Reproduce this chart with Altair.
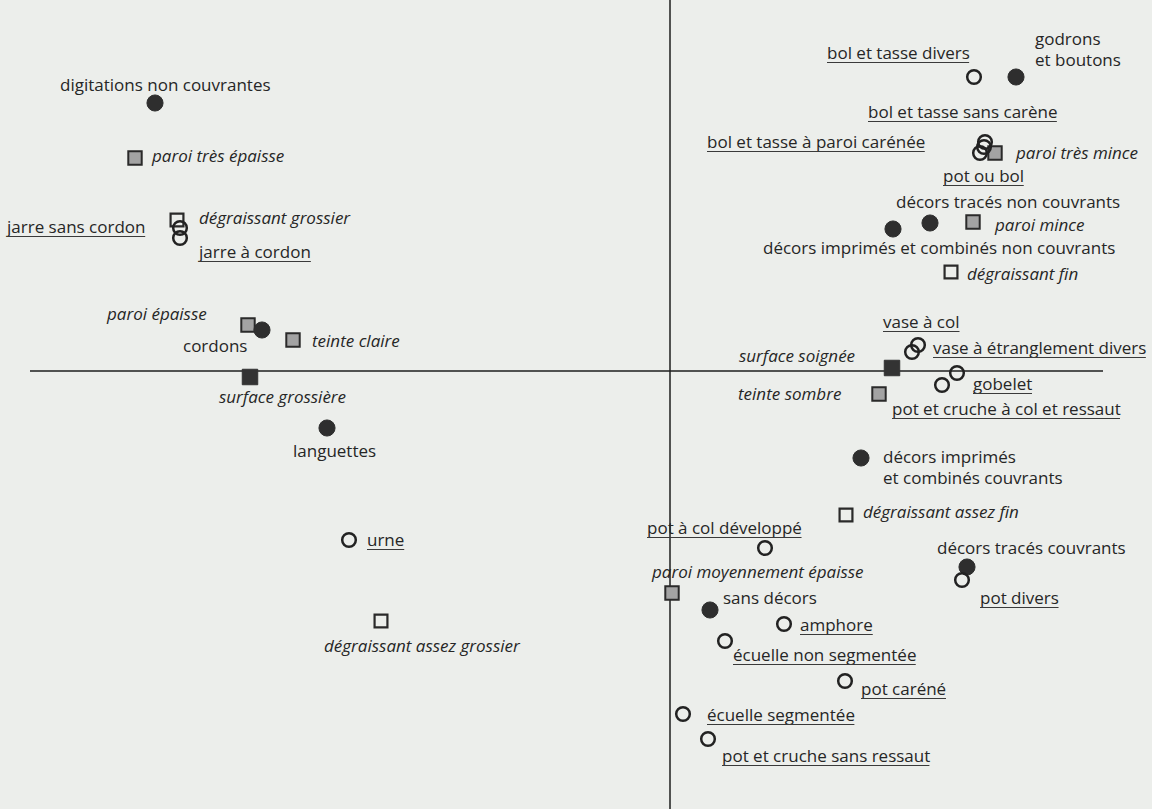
import altair as alt
import pandas as pd

# ---- point coordinates (factor scores) ----
decor_names = ["digitations non couvrantes", "cordons", "languettes", "godrons et boutons",
               "décors tracés non couvrants", "décors imprimés et combinés non couvrants",
               "décors imprimés et combinés couvrants", "décors tracés couvrants", "sans décors"]
decor_x = [-5.15, -4.08, -3.43, 3.46, 2.60, 2.23, 1.91, 2.97, 0.40]
decor_y = [2.68, 0.41, -0.57, 2.94, 1.48, 1.42, -0.87, -1.96, -2.39]

form_names = ["jarre sans cordon", "jarre à cordon", "urne", "bol et tasse divers",
              "bol et tasse sans carène", "bol et tasse à paroi carénée", "pot ou bol",
              "vase à col", "vase à étranglement divers", "gobelet",
              "pot et cruche à col et ressaut", "pot à col développé", "pot divers",
              "amphore", "écuelle non segmentée", "pot caréné", "écuelle segmentée",
              "pot et cruche sans ressaut"]
form_x = [-4.90, -4.90, -3.21, 3.04, 3.15, 3.14, 3.10, 2.48, 2.42, 2.87, 2.72, 0.95, 2.92,
          1.14, 0.55, 1.75, 0.13, 0.38]
form_y = [1.43, 1.33, -1.69, 2.94, 2.29, 2.24, 2.18, 0.26, 0.19, -0.02, -0.14, -1.77, -2.09,
          -2.53, -2.70, -3.10, -3.43, -3.68]

paroi_names = ["paroi très épaisse", "paroi épaisse", "teinte claire", "paroi très mince",
               "paroi mince", "teinte sombre", "paroi moyennement épaisse"]
paroi_x = [-5.35, -4.22, -3.77, 3.25, 3.03, 2.09, 0.02]
paroi_y = [2.13, 0.46, 0.31, 2.18, 1.49, -0.23, -2.22]

degr_names = ["dégraissant grossier", "dégraissant fin", "dégraissant assez fin",
              "dégraissant assez grossier"]
degr_x = [-4.93, 2.81, 1.76, -2.89]
degr_y = [1.51, 0.99, -1.44, -2.50]

surf_names = ["surface grossière", "surface soignée"]
surf_x = [-4.20, 2.22]
surf_y = [-0.06, 0.03]

# ---- labels: text, left edge, vertical centre, style ----
label_text = ["digitations non couvrantes", "cordons", "languettes", "godrons", "et boutons",
              "décors tracés non couvrants", "décors imprimés et combinés non couvrants",
              "décors imprimés", "et combinés couvrants", "décors tracés couvrants", "sans décors",
              "jarre sans cordon", "jarre à cordon", "urne", "bol et tasse divers",
              "bol et tasse sans carène", "bol et tasse à paroi carénée", "pot ou bol",
              "vase à col", "vase à étranglement divers", "gobelet",
              "pot et cruche à col et ressaut", "pot à col développé", "pot divers", "amphore",
              "écuelle non segmentée", "pot caréné", "écuelle segmentée",
              "pot et cruche sans ressaut",
              "paroi très épaisse", "paroi épaisse", "teinte claire", "paroi très mince",
              "paroi mince", "teinte sombre", "paroi moyennement épaisse",
              "dégraissant grossier", "dégraissant fin", "dégraissant assez fin",
              "dégraissant assez grossier", "surface grossière", "surface soignée"]
label_x = [-6.10, -4.87, -3.77, 3.65, 3.65, 2.26, 0.93, 2.13, 2.13, 2.67, 0.53,
           -6.63, -4.71, -3.03, 1.57, 1.98, 0.37, 2.73, 2.13, 2.63, 3.03, 2.22, -0.23, 3.10,
           1.30, 0.63, 1.91, 0.37, 0.52,
           -5.18, -5.63, -3.58, 3.46, 3.25, 0.68, -0.18,
           -4.71, 2.97, 1.93, -3.46, -4.51, 0.69]
label_y = [2.85, 0.24, -0.81, 3.31, 3.10, 1.68, 1.22, -0.87, -1.08, -1.78, -2.28,
           1.43, 1.18, -1.70, 3.17, 2.58, 2.28, 1.94, 0.48, 0.22, -0.14, -0.39, -1.58, -2.28,
           -2.55, -2.85, -3.19, -3.45, -3.86,
           2.14, 0.56, 0.29, 2.17, 1.45, -0.24, -2.02,
           1.52, 0.96, -1.42, -2.76, -0.27, 0.14]
label_style = ["plain"] * 11 + ["under"] * 18 + ["italic"] * 13

FONT = "Open Sans"
FS = 17
INK = "#262626"

# approximate advance widths (em) to size the underlines
cw = {" ": 0.26, "a": 0.56, "à": 0.56, "b": 0.61, "c": 0.48, "d": 0.61, "e": 0.56, "é": 0.56,
      "è": 0.56, "f": 0.34, "g": 0.54, "h": 0.61, "i": 0.25, "j": 0.25, "l": 0.25, "m": 0.93,
      "n": 0.61, "o": 0.60, "p": 0.61, "r": 0.41, "s": 0.47, "t": 0.35, "u": 0.61, "v": 0.50}
PX_PER_UNIT = 100.0

labels = pd.DataFrame({"text": label_text, "x": label_x, "y": label_y, "style": label_style})
und = labels[labels["style"] == "under"].copy()
und["w"] = und["text"].map(lambda s: sum(cw.get(c, 0.55) for c in s) * FS / PX_PER_UNIT)
und["x2"] = und["x"] + und["w"]
und["yu"] = und["y"] - 0.085

XD = [-6.70, 4.82]
YD = [-4.38, 3.71]
xs = alt.Scale(domain=XD, nice=False, zero=False)
ys = alt.Scale(domain=YD, nice=False, zero=False)
X = lambda f: alt.X(f, type="quantitative", scale=xs, axis=None)
Y = lambda f: alt.Y(f, type="quantitative", scale=ys, axis=None)


def pts(names, xv, yv):
    return pd.DataFrame({"name": names, "x": xv, "y": yv})


axes_df = pd.DataFrame({"x": [-6.40, 0.0], "x2": [4.33, 0.0], "y": [0.0, YD[0]], "y2": [0.0, YD[1]]})
axes = alt.Chart(axes_df).mark_rule(color="#1e1e1e", strokeWidth=1.5).encode(
    x=X("x"), x2="x2", y=Y("y"), y2="y2")

gray_sq = alt.Chart(pts(paroi_names, paroi_x, paroi_y)).mark_point(
    shape="square", filled=True, fill="#a3a3a3", stroke="#2a2a2a", strokeWidth=2,
    size=180, opacity=1).encode(x=X("x"), y=Y("y"))
open_sq = alt.Chart(pts(degr_names, degr_x, degr_y)).mark_point(
    shape="square", filled=False, stroke="#2a2a2a", strokeWidth=2.2, size=165,
    opacity=1).encode(x=X("x"), y=Y("y"))
dark_sq = alt.Chart(pts(surf_names, surf_x, surf_y)).mark_point(
    shape="square", filled=True, fill="#333333", stroke="#333333", strokeWidth=1,
    size=240, opacity=1).encode(x=X("x"), y=Y("y"))
dark_c = alt.Chart(pts(decor_names, decor_x, decor_y)).mark_point(
    shape="circle", filled=True, fill="#2e2e2e", stroke="#2e2e2e", strokeWidth=1,
    size=260, opacity=1).encode(x=X("x"), y=Y("y"))
open_c = alt.Chart(pts(form_names, form_x, form_y)).mark_point(
    shape="circle", filled=False, stroke="#222222", strokeWidth=2.5, size=185,
    opacity=1).encode(x=X("x"), y=Y("y"))

base_text = dict(font=FONT, fontSize=FS, color=INK, align="left", baseline="middle")
t_plain = alt.Chart(labels[labels["style"] == "plain"]).mark_text(**base_text).encode(
    x=X("x"), y=Y("y"), text="text")
t_under = alt.Chart(labels[labels["style"] == "under"]).mark_text(**base_text).encode(
    x=X("x"), y=Y("y"), text="text")
t_ital = alt.Chart(labels[labels["style"] == "italic"]).mark_text(
    fontStyle="italic", **base_text).encode(x=X("x"), y=Y("y"), text="text")
ulines = alt.Chart(und).mark_rule(color="#3a3a3a", strokeWidth=1.2).encode(
    x=X("x"), x2="x2", y=Y("yu"))

chart = alt.layer(axes, gray_sq, open_sq, dark_sq, dark_c, open_c,
                  t_plain, t_under, t_ital, ulines).properties(
    width=1152, height=809, autosize=alt.AutoSizeParams(type="none"), padding=0,
    background="#eceeeb").configure_view(stroke=None)

chart.save("out.html", embed_options={"renderer": "svg", "actions": False})
